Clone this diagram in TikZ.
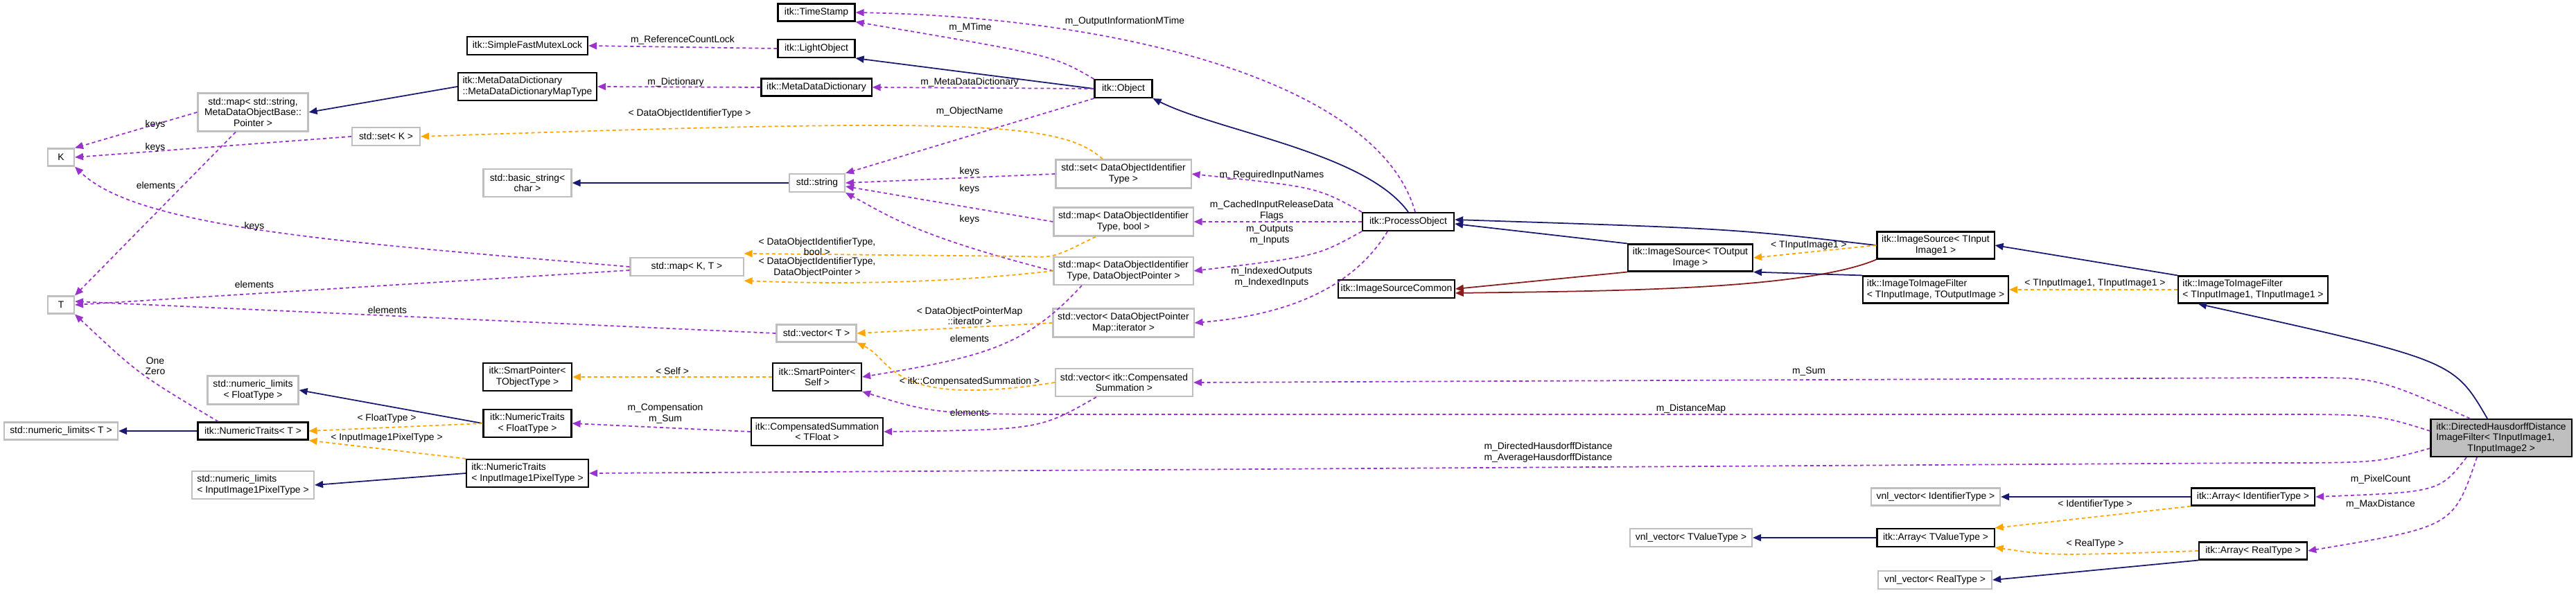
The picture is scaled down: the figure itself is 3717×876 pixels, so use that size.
\documentclass[tikz,border=0pt]{standalone}
\usepackage{fontspec}
\setmainfont{Liberation Sans}
\usetikzlibrary{arrows.meta}
\definecolor{inh}{HTML}{191970}
\definecolor{mem}{HTML}{9A32CD}
\definecolor{tpl}{HTML}{FFA500}
\definecolor{prv}{HTML}{8B1A1A}
\begin{document}
\begin{tikzpicture}[x=0.01cm,y=-0.01cm,
  every node/.style={font=\fontsize{3.95}{4.4}\selectfont},
  bk/.style={draw=black,line width=0.6pt,rectangle,inner sep=1pt,align=center,fill=white},
  gy/.style={draw=black!25,line width=0.6pt,rectangle,inner sep=1pt,align=center,fill=white},
  lab/.style={align=center,inner sep=0pt},
  tip/.style={-{Triangle[length=0.12cm,width=0.1cm]}},
  inhe/.style={tip,draw=inh,line width=0.5pt},
  memb/.style={tip,draw=mem,line width=0.5pt,dash pattern=on 0.05cm off 0.04cm},
  tmpl/.style={tip,draw=tpl,line width=0.5pt,dash pattern=on 0.05cm off 0.04cm},
  priv/.style={tip,draw=prv,line width=0.5pt}]
\useasboundingbox (0,0) rectangle (3717,876);
% nodes
\node[bk,minimum width=1.74cm,minimum height=0.26cm] (mutex) at (761,66) {itk::SimpleFastMutexLock};
\node[bk,minimum width=2.0cm,minimum height=0.40cm,align=left] (mddmap) at (761,125) {itk::MetaDataDictionary\\::MetaDataDictionaryMapType};
\node[gy,minimum width=1.59cm,minimum height=0.55cm] (mapstr) at (365,162) {std::map< std::string,\\ MetaDataObjectBase::\\Pointer >};
\node[gy,minimum width=0.98cm,minimum height=0.26cm] (setK) at (557,197) {std::set< K >};
\node[gy,minimum width=0.38cm,minimum height=0.25cm] (K) at (88,227) {K};
\node[gy,minimum width=1.27cm,minimum height=0.40cm] (bstr) at (761,264) {std::basic\_string<\\char >};
\node[gy,minimum width=1.63cm,minimum height=0.26cm] (mapKT) at (991,385) {std::map< K, T >};
\node[gy,minimum width=0.38cm,minimum height=0.25cm] (T) at (88,440) {T};
\node[gy,minimum width=1.64cm,minimum height=0.25cm] (nlT) at (88,622) {std::numeric\_limits< T >};
\node[bk,minimum width=1.59cm,minimum height=0.25cm] (ntT) at (365,622) {itk::NumericTraits< T >};
\node[gy,minimum width=1.31cm,minimum height=0.41cm] (nlF) at (365,563) {std::numeric\_limits\\< FloatType >};
\node[gy,minimum width=1.76cm,minimum height=0.40cm,align=left] (nlP) at (365,700) {std::numeric\_limits\\< InputImage1PixelType >};
\node[bk,minimum width=1.28cm,minimum height=0.40cm] (spT) at (761,544) {itk::SmartPointer<\\ TObjectType >};
\node[bk,minimum width=1.27cm,minimum height=0.40cm] (ntF) at (761,611) {itk::NumericTraits\\< FloatType >};
\node[bk,minimum width=1.76cm,minimum height=0.40cm,align=left] (ntP) at (761,683) {itk::NumericTraits\\< InputImage1PixelType >};
\node[bk,minimum width=1.11cm,minimum height=0.25cm] (ts) at (1178,18) {itk::TimeStamp};
\node[bk,minimum width=1.11cm,minimum height=0.26cm] (lo) at (1178,70) {itk::LightObject};
\node[bk,minimum width=1.59cm,minimum height=0.25cm] (mdd) at (1178,126) {itk::MetaDataDictionary};
\node[bk,minimum width=0.83cm,minimum height=0.26cm] (obj) at (1621,128) {itk::Object};
\node[gy,minimum width=0.80cm,minimum height=0.26cm] (str) at (1179,264) {std::string};
\node[gy,minimum width=1.95cm,minimum height=0.41cm] (setD) at (1621,251) {std::set< DataObjectIdentifier\\Type >};
\node[gy,minimum width=2.01cm,minimum height=0.41cm] (mapB) at (1621,320) {std::map< DataObjectIdentifier\\Type, bool >};
\node[gy,minimum width=2.01cm,minimum height=0.40cm] (mapP) at (1621,391) {std::map< DataObjectIdentifier\\Type, DataObjectPointer >};
\node[bk,minimum width=1.32cm,minimum height=0.26cm] (po) at (2032,320) {itk::ProcessObject};
\node[bk,minimum width=1.40cm,minimum height=0.26cm] (isc) at (2015,417) {itk::ImageSourceCommon};
\node[gy,minimum width=2.03cm,minimum height=0.41cm] (vecI) at (1621,466) {std::vector< DataObjectPointer\\Map::iterator >};
\node[gy,minimum width=1.15cm,minimum height=0.25cm] (vecT) at (1178,481) {std::vector< T >};
\node[bk,minimum width=1.28cm,minimum height=0.40cm] (spS) at (1179,544) {itk::SmartPointer<\\Self >};
\node[gy,minimum width=1.98cm,minimum height=0.40cm] (vecC) at (1622,552) {std::vector< itk::Compensated\\Summation >};
\node[bk,minimum width=1.90cm,minimum height=0.40cm] (cs) at (1179,623) {itk::CompensatedSummation\\< TFloat >};
\node[bk,minimum width=1.80cm,minimum height=0.39cm] (isO) at (2439,372) {itk::ImageSource< TOutput\\Image >};
\node[bk,minimum width=1.69cm,minimum height=0.39cm] (isI) at (2793,354) {itk::ImageSource< TInput\\Image1 >};
\node[bk,minimum width=2.10cm,minimum height=0.39cm,align=left] (itiT) at (2793,418) {itk::ImageToImageFilter\\< TInputImage, TOutputImage >};
\node[bk,minimum width=2.16cm,minimum height=0.39cm,align=left] (iti1) at (3251,418) {itk::ImageToImageFilter\\< TInputImage1, TInputImage1 >};
\node[bk,fill=black!25,minimum width=2.03cm,minimum height=0.54cm,align=left] (dh) at (3609,632) {itk::DirectedHausdorffDistance\\ImageFilter< TInputImage1,\\\hspace*{0.45cm}TInputImage2 >};
\node[gy,minimum width=1.86cm,minimum height=0.25cm] (vnlI) at (2793,717) {vnl\_vector< IdentifierType >};
\node[bk,minimum width=1.78cm,minimum height=0.25cm] (arI) at (3251,717) {itk::Array< IdentifierType >};
\node[gy,minimum width=1.76cm,minimum height=0.26cm] (vnlV) at (2440,776) {vnl\_vector< TValueType >};
\node[bk,minimum width=1.69cm,minimum height=0.26cm] (arV) at (2793,776) {itk::Array< TValueType >};
\node[bk,minimum width=1.56cm,minimum height=0.25cm] (arR) at (3251,795) {itk::Array< RealType >};
\node[gy,minimum width=1.64cm,minimum height=0.26cm] (vnlR) at (2792,837) {vnl\_vector< RealType >};
% edges
\draw[memb] (lo.west) -- (mutex.east) node[lab] at (985,58) {m\_ReferenceCountLock};
\draw[inhe] (mddmap.west) -- (mapstr.east);
\draw[memb] (mdd.west) -- (mddmap.east) node[lab] at (975,119) {m\_Dictionary};
\draw[memb] (obj.north west) .. controls (1520,80) .. (ts.south east) node[lab] at (1400,40) {m\_MTime};
\draw[inhe] (obj.west) -- (lo.south east);
\draw[memb] (obj.west) -- (mdd.east) node[lab] at (1399,119) {m\_MetaDataDictionary};
\draw[memb] (obj.south west) -- (str.north east) node[lab] at (1399,161) {m\_ObjectName};
\draw[inhe] (str.west) -- (bstr.east);
\draw[memb] ([xshift=0.1cm]po.north) .. controls (1990,120) and (1620,25) .. (ts.east) node[lab] at (1623,31) {m\_OutputInformationMTime};
\draw[inhe] (po.north) .. controls (1970,220) and (1760,190) .. (obj.south east);
\draw[memb] (po.north west) .. controls (1900,270) .. (setD.east) node[lab] at (1835,253) {m\_RequiredInputNames};
\draw[memb] (po.west) -- (mapB.east) node[lab] at (1835,304) {m\_CachedInputReleaseData\\Flags};
\draw[memb] (po.south west) .. controls (1900,370) .. (mapP.east) node[lab] at (1832,339) {m\_Outputs\\m\_Inputs};
\draw[memb] ([xshift=-0.3cm]po.south) .. controls (1950,420) and (1850,455) .. (vecI.east) node[lab] at (1835,400) {m\_IndexedOutputs\\m\_IndexedInputs};
\draw[tmpl] ([xshift=-0.3cm]setD.north) .. controls (1530,175) and (1400,170) .. (setK.east) node[lab] at (995,164) {< DataObjectIdentifierType >};
\draw[memb] (setD.west) -- (str.east) node[lab] at (1399,248) {keys};
\draw[memb] (mapB.west) -- ([yshift=-0.05cm]str.east) node[lab] at (1399,273) {keys};
\draw[memb] (mapP.west) .. controls (1320,340) and (1280,310) .. (str.south east) node[lab] at (1399,317) {keys};
\draw[tmpl] ([xshift=-0.4cm]mapB.south) .. controls (1520,372) .. (1480,370) -- ([yshift=0.05cm]mapKT.north east) node[lab] at (1179,356) {< DataObjectIdentifierType,\\bool >};
\draw[tmpl] (mapP.west) .. controls (1350,410) and (1200,410) .. ([yshift=-0.06cm]mapKT.south east) node[lab] at (1179,386) {< DataObjectIdentifierType,\\DataObjectPointer >};
\draw[memb] ([xshift=-0.6cm]mapP.south) .. controls (1480,500) and (1420,515) .. (spS.east) node[lab] at (1399,489) {elements};
\draw[tmpl] (vecI.west) -- (vecT.east) node[lab] at (1399,456) {< DataObjectPointerMap\\::iterator >};
\draw[memb] (setK.west) -- (K.east) node[lab] at (224,213) {keys};
\draw[memb] (mapstr.west) -- (K.north east) node[lab] at (224,180) {keys};
\draw[memb] ([xshift=-0.25cm]mapstr.south) -- (T.north east) node[lab] at (225,268) {elements};
\draw[memb] (mapKT.west) .. controls (500,350) and (200,330) .. (K.south east) node[lab] at (367,327) {keys};
\draw[memb] ([yshift=-0.05cm]mapKT.west) -- (T.east) node[lab] at (367,411) {elements};
\draw[memb] (vecT.west) -- ([yshift=0.05cm]T.east) node[lab] at (559,448) {elements};
\draw[tmpl] (spS.west) -- (spT.east) node[lab] at (970,536) {< Self >};
\draw[tmpl] (vecC.west) .. controls (1280,590) and (1290,520) .. (vecT.south east) node[lab] at (1399,551) {< itk::CompensatedSummation >};
\draw[memb] ([xshift=-0.4cm]vecC.south) .. controls (1500,620) .. (cs.east) node[lab] at (1399,596) {elements};
\draw[memb] (cs.west) -- (ntF.east) node[lab] at (960,597) {m\_Compensation\\m\_Sum};
\draw[inhe] (ntF.west) -- (nlF.east);
\draw[tmpl] (ntF.west) -- (ntT.east) node[lab] at (558,604) {< FloatType >};
\draw[tmpl] (ntP.north west) -- (ntT.south east) node[lab] at (558,632) {< InputImage1PixelType >};
\draw[inhe] (ntP.west) -- (nlP.east);
\draw[inhe] (ntT.west) -- (nlT.east);
\draw[memb] ([xshift=-0.5cm]ntT.north) .. controls (200,540) .. (T.south east) node[lab] at (224,528) {One\\Zero};
\draw[inhe] (isO.north west) -- ([yshift=-0.03cm]po.east);
\draw[inhe] (isI.west) .. controls (2500,330) .. ([yshift=0.03cm]po.east);
\draw[priv] (isO.south west) -- (isc.east);
\draw[priv] (isI.south west) .. controls (2600,420) and (2300,420) .. ([yshift=-0.06cm]isc.east);
\draw[tmpl] (isI.west) -- (isO.east) node[lab] at (2610,354) {< TInputImage1 >};
\draw[inhe] (itiT.north west) -- (isO.south east);
\draw[inhe] (iti1.north west) -- (isI.east);
\draw[tmpl] (iti1.west) -- (itiT.east) node[lab] at (3023,409) {< TInputImage1, TInputImage1 >};
\draw[inhe] ([xshift=-0.2cm]dh.north) .. controls (3540,520) .. ([xshift=0.3cm]iti1.south west);
\draw[memb] ([xshift=-0.45cm]dh.north) .. controls (3430,545) .. (3320,545) -- (vecC.east) node[lab] at (2610,536) {m\_Sum};
\draw[memb] ([yshift=0.1cm]dh.west) .. controls (3430,598) .. (3270,598) -- (1600,598) .. controls (1350,598) .. (spS.south east) node[lab] at (2440,590) {m\_DistanceMap};
\draw[memb] ([yshift=-0.15cm]dh.west) .. controls (3430,668) .. (3270,668) -- (ntP.east) node[lab] at (2234,653) {m\_DirectedHausdorffDistance\\m\_AverageHausdorffDistance};
\draw[memb] ([xshift=-0.5cm]dh.south) .. controls (3520,710) .. (arI.east) node[lab] at (3435,692) {m\_PixelCount};
\draw[memb] ([xshift=-0.35cm]dh.south) .. controls (3540,760) .. (arR.east) node[lab] at (3435,728) {m\_MaxDistance};
\draw[inhe] (arI.west) -- (vnlI.east);
\draw[tmpl] (arI.south west) -- (arV.north east) node[lab] at (3023,728) {< IdentifierType >};
\draw[inhe] (arV.west) -- (vnlV.east);
\draw[tmpl] (arR.west) .. controls (2960,802) .. (arV.south east) node[lab] at (3023,785) {< RealType >};
\draw[inhe] (arR.south west) -- (vnlR.east);
\end{tikzpicture}
\end{document}
